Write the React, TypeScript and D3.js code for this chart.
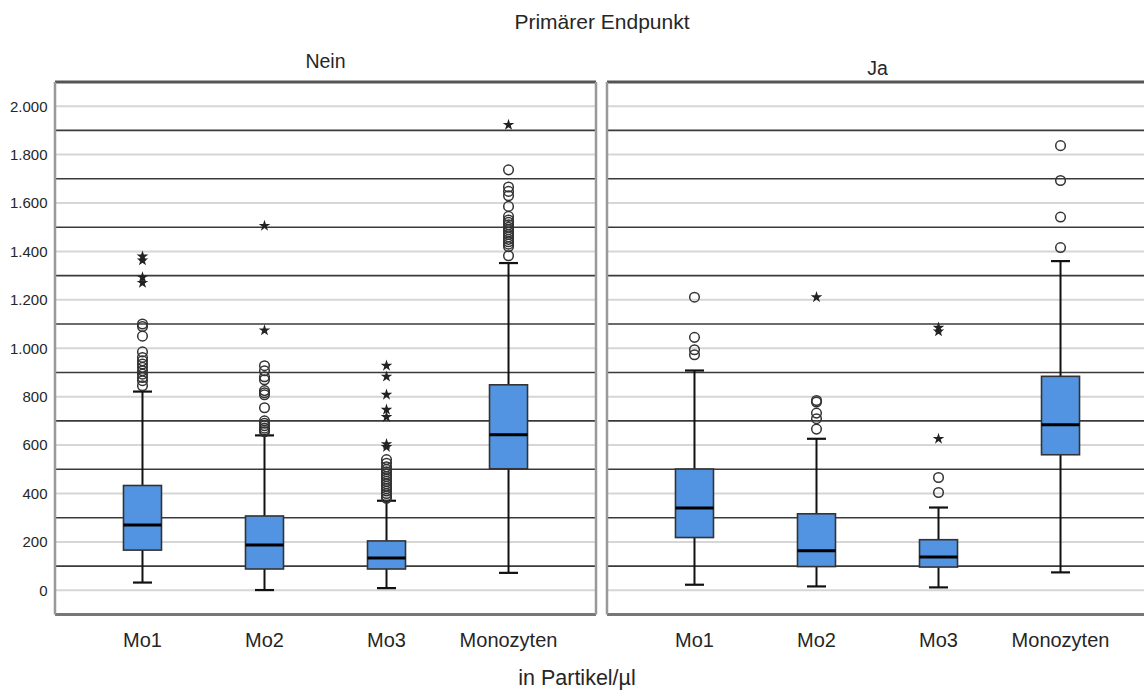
import React from "react";
import * as d3 from "d3";

const categories = ["Mo1", "Mo2", "Mo3", "Monozyten"];
const panels = ["Nein", "Ja"];
const yTicks = [0, 200, 400, 600, 800, 1000, 1200, 1400, 1600, 1800, 2000];
const yMinor = [100, 300, 500, 700, 900, 1100, 1300, 1500, 1700, 1900];

// Nein
const neinLow = [32, 1, 9, 72];
const neinQ1 = [166, 88, 88, 502];
const neinMedian = [270, 187, 133, 643];
const neinQ3 = [433, 307, 204, 849];
const neinHigh = [821, 640, 370, 1352];
const neinCircles = [
  [1100, 1090, 1050, 985, 962, 948, 935, 921, 907, 893, 879, 866, 845],
  [928, 907, 882, 870, 825, 816, 808, 754, 700, 690, 680, 670, 662, 655],
  [540, 525, 510, 500, 490, 480, 470, 460, 450, 440, 430, 420, 410, 400, 390, 380],
  [1737, 1666, 1648, 1630, 1586, 1545, 1530, 1520, 1510, 1500, 1490, 1480, 1470, 1460, 1450, 1440, 1430, 1420, 1382],
];
const neinStars = [
  [1379, 1363, 1293, 1270],
  [1506, 1074],
  [928, 883, 808, 746, 716, 604, 592],
  [1923],
];

// Ja
const jaLow = [23, 16, 12, 74];
const jaQ1 = [218, 98, 96, 560];
const jaMedian = [340, 163, 138, 684];
const jaQ3 = [501, 316, 209, 884];
const jaHigh = [908, 626, 342, 1360];
const jaCircles = [
  [1211, 1045, 994, 973],
  [784, 778, 732, 709, 666],
  [466, 404],
  [1837, 1693, 1542, 1416],
];
const jaStars = [[], [1211], [1085, 1070, 626], []];

const W = 1144;
const H = 691;
const panelX = [
  [55, 596],
  [607, 1148],
];
const y = d3.scaleLinear().domain([-100, 2100]).range([614.5, 82]);
const fmt = (v: number) => d3.format(",")(v).replace(/,/g, ".");
const FONT = "'Liberation Sans', Arial, sans-serif";
const TXT = "#262626";

const data = [
  { low: neinLow, q1: neinQ1, med: neinMedian, q3: neinQ3, high: neinHigh, circles: neinCircles, stars: neinStars },
  { low: jaLow, q1: jaQ1, med: jaMedian, q3: jaQ3, high: jaHigh, circles: jaCircles, stars: jaStars },
];

const starPath = d3.symbol().type(d3.symbolStar).size(42)() as string;

export default function App() {
  return (
    <svg
      width={W}
      height={H}
      style={{ position: "absolute", left: 0, top: 0, background: "#fff" }}
      fontFamily={FONT}
    >
      <rect width={W} height={H} fill="#fff" />
      <text x={602} y={29} textAnchor="middle" fontSize={21} fill={TXT}>
        Primärer Endpunkt
      </text>
      {panels.map((p, pi) => {
        const [x0, x1] = panelX[pi];
        const x = d3.scalePoint<string>().domain(categories).range([x0, x1]).padding(0.717);
        const d = data[pi];
        const bw = 38;
        return (
          <g key={p}>
            <text
              x={(x0 + x1) / 2}
              y={pi === 0 ? 68 : 75}
              textAnchor="middle"
              fontSize={19.5}
              fill={TXT}
            >
              {p}
            </text>
            {yTicks.map((t) => (
              <line key={"g" + t} x1={x0} x2={x1} y1={y(t)} y2={y(t)} stroke="#d6d6d6" strokeWidth={2} />
            ))}
            {yMinor.map((t) => (
              <line key={"m" + t} x1={x0} x2={x1} y1={y(t)} y2={y(t)} stroke="#3a3a3a" strokeWidth={1.6} />
            ))}
            {/* frame */}
            <line x1={x0} x2={x1} y1={y(2100)} y2={y(2100)} stroke="#555" strokeWidth={3} />
            <line x1={x0} x2={x1} y1={y(-100)} y2={y(-100)} stroke="#777" strokeWidth={3} />
            <line x1={x0} x2={x0} y1={y(2100)} y2={y(-100)} stroke="#999" strokeWidth={2.5} />
            <line x1={x1} x2={x1} y1={y(2100)} y2={y(-100)} stroke="#999" strokeWidth={2.5} />
            {categories.map((c, ci) => {
              const cx = x(c) as number;
              return (
                <g key={c}>
                  <line x1={cx} x2={cx} y1={y(d.low[ci])} y2={y(d.q1[ci])} stroke="#111" strokeWidth={2} />
                  <line x1={cx} x2={cx} y1={y(d.q3[ci])} y2={y(d.high[ci])} stroke="#111" strokeWidth={2} />
                  <line x1={cx - bw / 4} x2={cx + bw / 4} y1={y(d.low[ci])} y2={y(d.low[ci])} stroke="#111" strokeWidth={2.2} />
                  <line x1={cx - bw / 4} x2={cx + bw / 4} y1={y(d.high[ci])} y2={y(d.high[ci])} stroke="#111" strokeWidth={2.2} />
                  <rect
                    x={cx - bw / 2}
                    y={y(d.q3[ci])}
                    width={bw}
                    height={y(d.q1[ci]) - y(d.q3[ci])}
                    fill="#5294e2"
                    stroke="#333"
                    strokeWidth={1.6}
                  />
                  <line x1={cx - bw / 2} x2={cx + bw / 2} y1={y(d.med[ci])} y2={y(d.med[ci])} stroke="#000" strokeWidth={3} />
                  {d.circles[ci].map((v, k) => (
                    <circle key={"c" + k} cx={cx} cy={y(v)} r={4.8} fill="none" stroke="#333" strokeWidth={1.5} />
                  ))}
                  {d.stars[ci].map((v, k) => (
                    <path key={"s" + k} d={starPath} transform={`translate(${cx},${y(v)})`} fill="#222" />
                  ))}
                  <text x={cx} y={647} textAnchor="middle" fontSize={20} fill={TXT}>
                    {c}
                  </text>
                </g>
              );
            })}
          </g>
        );
      })}
      {yTicks.map((t) => (
        <text key={"t" + t} x={47.5} y={y(t)} dy="0.36em" textAnchor="end" fontSize={15} fill={TXT}>
          {fmt(t)}
        </text>
      ))}
      <text x={577} y={685} textAnchor="middle" fontSize={21.5} fill={TXT}>
        in Partikel/µl
      </text>
    </svg>
  );
}
